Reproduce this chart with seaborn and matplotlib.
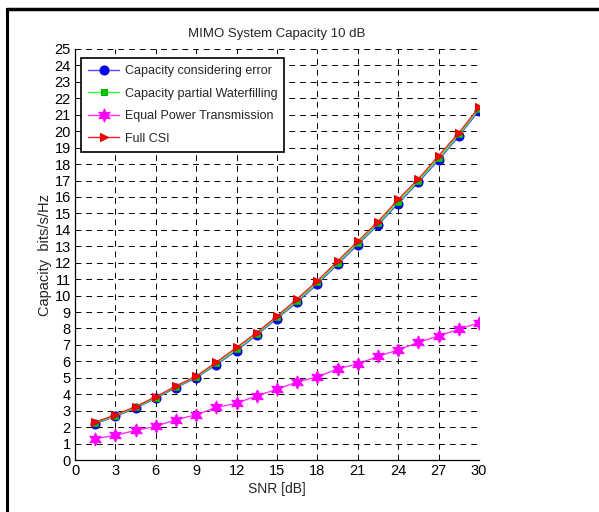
import numpy as np
import pandas as pd
import matplotlib
matplotlib.use("Agg")
import matplotlib.pyplot as plt
import seaborn as sns
from matplotlib.lines import Line2D

# valores
snr = [1.5, 3, 4.5, 6, 7.5, 9, 10.5, 12, 13.5, 15, 16.5, 18, 19.5, 21, 22.5, 24, 25.5, 27, 28.5, 30]
cap_error = [2.2, 2.65, 3.15, 3.75, 4.4, 5.0, 5.8, 6.65, 7.6, 8.6, 9.6, 10.7, 11.9, 13.1, 14.3, 15.6, 16.9, 18.25, 19.7, 21.25]
cap_partial = [2.25, 2.7, 3.2, 3.8, 4.45, 5.05, 5.87, 6.75, 7.68, 8.68, 9.7, 10.8, 12.0, 13.2, 14.4, 15.7, 17.0, 18.37, 19.8, 21.35]
cap_equal = [1.3, 1.5, 1.8, 2.05, 2.45, 2.75, 3.2, 3.45, 3.9, 4.3, 4.75, 5.05, 5.55, 5.85, 6.3, 6.7, 7.15, 7.55, 7.95, 8.35]
cap_full = [2.3, 2.75, 3.25, 3.85, 4.5, 5.1, 5.95, 6.85, 7.75, 8.75, 9.8, 10.9, 12.1, 13.3, 14.5, 15.85, 17.1, 18.5, 19.9, 21.45]

labels = ["Capacity considering error", "Capacity partial Waterfilling",
          "Equal Power Transmission", "Full CSI"]

sns.set_style("white")
plt.rcParams["font.family"] = ["Liberation Sans", "DejaVu Sans"]

fig, ax = plt.subplots(figsize=(5.99, 5.12), dpi=100)
fig.subplots_adjust(left=75 / 599, right=479 / 599, top=1 - 49 / 512, bottom=1 - 460 / 512)

sns.lineplot(x=snr, y=cap_error, ax=ax, color="#4f4fff", lw=1, marker="o", markersize=6.5,
             markerfacecolor="#0000ff", markeredgecolor="#0000cc", label=labels[0], zorder=3)
sns.lineplot(x=snr, y=cap_partial, ax=ax, color="#33ff33", lw=1, marker="s", markersize=4,
             markerfacecolor="#00cc00", markeredgecolor="#00aa00", label=labels[1], zorder=4)
sns.lineplot(x=snr, y=cap_equal, ax=ax, color="#ff33ff", lw=1, marker=(6, 1, 0), markersize=9.5,
             markerfacecolor="#ff00ff", markeredgecolor="#ff00ff", label=labels[2], zorder=3)
sns.lineplot(x=snr, y=cap_full, ax=ax, color="#ff2020", lw=1, marker=">", markersize=6,
             markerfacecolor="#ff0000", markeredgecolor="#dd0000", label=labels[3], zorder=5)

ax.set_xlim(0, 30)
ax.set_ylim(0, 25)
ax.set_xticks(np.arange(0, 31, 3))
ax.set_yticks(np.arange(0, 26, 1))
ax.tick_params(direction="in", length=4, width=0.8, labelsize=10.5, colors="black", pad=3)
ax.grid(True, color="black", linestyle=(0, (6, 5)), linewidth=0.7)
for s in ["top", "right"]:
    ax.spines[s].set_visible(False)
for s in ["left", "bottom"]:
    ax.spines[s].set_color("black")
    ax.spines[s].set_linewidth(0.9)

ax.set_title("MIMO System Capacity 10 dB", fontsize=9.5, pad=9)
ax.set_xlabel("SNR [dB]", fontsize=10, labelpad=3)
ax.set_ylabel("Capacity  bits/s/Hz", fontsize=10.5, labelpad=2)

leg = ax.legend(loc="upper left", bbox_to_anchor=(0.015, 0.978), fontsize=9, frameon=True,
                fancybox=False, edgecolor="black", handlelength=2.5, handletextpad=0.45,
                borderpad=0.55, labelspacing=0.85, borderaxespad=0)
leg.get_frame().set_linewidth(1.2)
leg.get_frame().set_alpha(1)

# marco negro de la figura (arriba e izquierda)
fig.add_artist(Line2D([7 / 599, 1], [1 - 8.5 / 512, 1 - 8.5 / 512], color="black", lw=2.5,
                      transform=fig.transFigure))
fig.add_artist(Line2D([7 / 599, 7 / 599], [0, 1 - 8.5 / 512], color="black", lw=2.2,
                      transform=fig.transFigure))

fig.savefig("out.png", dpi=100)
